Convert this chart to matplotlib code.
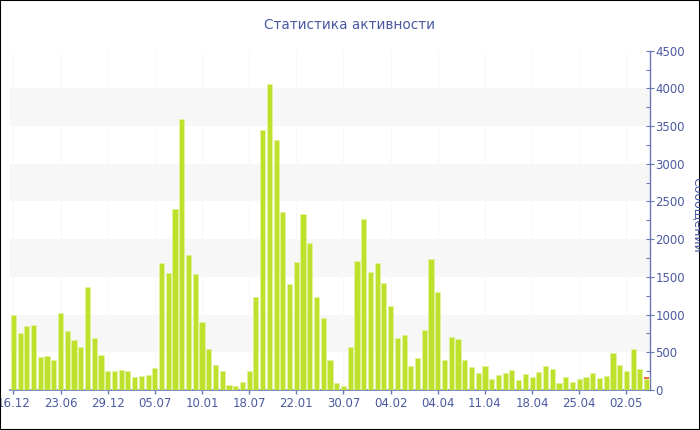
import matplotlib.pyplot as plt
from matplotlib.patches import Rectangle
from matplotlib.ticker import MultipleLocator

# messages per day
values = [994, 756, 844, 862, 442, 451, 398, 1025, 778, 663,
          566, 1370, 685, 464, 256, 248, 261, 252, 172, 186,
          194, 296, 1684, 1551, 2400, 3594, 1794, 1534, 897, 548,
          336, 256, 66, 49, 110, 252, 1233, 3443, 4058, 3315,
          2356, 1410, 1693, 2338, 1953, 1229, 951, 402, 97, 53,
          570, 1715, 2267, 1565, 1684, 1423, 1112, 685, 729, 318,
          420, 800, 1737, 1295, 402, 703, 681, 393, 305, 225,
          318, 150, 199, 230, 261, 137, 210, 172, 243, 322,
          283, 93, 177, 110, 141, 177, 225, 164, 186, 486,
          336, 256, 544, 279, 146]
# small second series, only on the last day
extra = [0] * 94 + [26]

tick_labels = ['16.12', '23.06', '29.12', '05.07', '10.01', '18.07', '22.01',
               '30.07', '04.02', '04.04', '11.04', '18.04', '25.04', '02.05']
tick_step = 7

text_color = '#4a5aa0'
axis_color = '#6a78b4'

fig = plt.figure(figsize=(7, 4.3), dpi=100)
ax = fig.add_axes([10 / 700, 40 / 430, 640 / 700, 339.3 / 430])

x = list(range(len(values)))
ax.bar(x, values, width=0.76, color='#bde12d', edgecolor='#e2f29a', linewidth=0.6, zorder=3)
ax.bar(x, extra, bottom=values, width=0.76, color='#e8663a', linewidth=0, zorder=3)

ax.set_xlim(-0.5, len(values) - 0.5)
ax.set_ylim(0, 4500)

# alternating grey bands
for lo in range(500, 4500, 1000):
    ax.axhspan(lo, lo + 500, color='#f7f7f7', zorder=0, linewidth=0)
for i in range(0, len(values), tick_step):
    ax.axvline(i, color='#f8f8f8', linewidth=0.8, zorder=1)

ax.set_xticks(list(range(0, len(values), tick_step)))
ax.set_xticklabels(tick_labels)

ax.yaxis.tick_right()
ax.yaxis.set_major_locator(MultipleLocator(500))
ax.yaxis.set_minor_locator(MultipleLocator(250))

for s in ['top', 'left']:
    ax.spines[s].set_visible(False)
ax.spines['bottom'].set_color(axis_color)
ax.spines['right'].set_color(axis_color)
ax.spines['bottom'].set_linewidth(1.2)
ax.spines['right'].set_linewidth(1.0)

ax.tick_params(axis='x', colors=axis_color, labelcolor=text_color, labelsize=8.5,
               length=3, width=1, pad=2)
ax.tick_params(axis='y', which='major', colors=axis_color, labelcolor=text_color,
               labelsize=8.5, direction='inout', length=6, width=0.8, pad=1)
ax.tick_params(axis='y', which='minor', colors=axis_color, direction='in', length=3, width=0.8)

fig.text(0.5, 1 - 25 / 430, 'Статистика активности', ha='center', va='center',
         fontsize=9.8, color=text_color)
fig.text(697 / 700, 1 - 215 / 430, 'Сообщений', ha='center', va='center',
         rotation=-90, fontsize=9, color=text_color)

# thin black frame round the picture
fig.patches.append(Rectangle((0, 0), 1, 1, transform=fig.transFigure, fill=False,
                             edgecolor='black', linewidth=1.5))

fig.savefig('out.png', dpi=100)
